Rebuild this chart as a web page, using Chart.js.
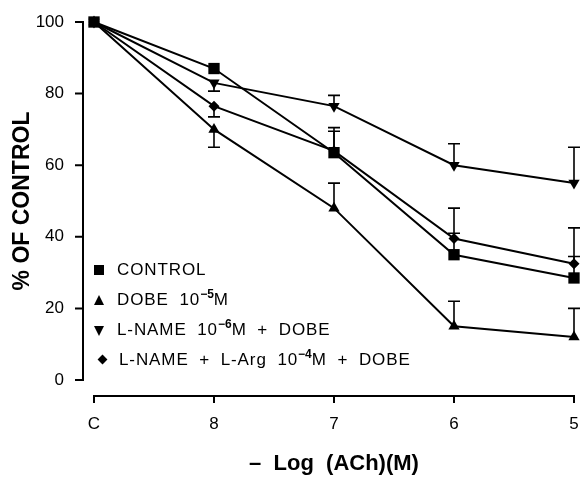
<!DOCTYPE html>
<html>
<head>
<meta charset="utf-8">
<script src="https://cdn.jsdelivr.net/npm/chart.js@4/dist/chart.umd.min.js"></script>
<style>
  html, body { margin: 0; padding: 0; background: #fff; }
  #wrap { position: relative; width: 582px; height: 477px; }
  #legend { position: absolute; left: 0; top: 0; font-family: "Liberation Sans", Arial, sans-serif;
            font-size: 17px; letter-spacing: 0.9px; word-spacing: 5px; color: #000; }
  .row { position: absolute; white-space: nowrap; line-height: 20px; }
  .row sup { font-size: 12px; vertical-align: 7px; line-height: 0; letter-spacing: 0; font-weight: bold; }
  .mk { position: absolute; }
  .sq { width: 10px; height: 10px; background: #000; }
  .up { width: 0; height: 0; border-left: 5.5px solid transparent; border-right: 5.5px solid transparent; border-bottom: 10px solid #000; }
  .dn { width: 0; height: 0; border-left: 5.5px solid transparent; border-right: 5.5px solid transparent; border-top: 10px solid #000; }
  .di { width: 7px; height: 7px; background: #000; transform: rotate(45deg); }
</style>
</head>
<body>
<div id="wrap">
  <canvas id="c" width="582" height="477"></canvas>
  <div id="legend">
    <div class="mk sq" style="left:94px;top:265px"></div>
    <div class="row" style="left:117px;top:260px">CONTROL</div>
    <div class="mk up" style="left:94px;top:295px"></div>
    <div class="row" style="left:117px;top:290px">DOBE 10<sup>−5</sup>M</div>
    <div class="mk dn" style="left:94px;top:326px"></div>
    <div class="row" style="left:117px;top:320px">L-NAME 10<sup>−6</sup>M + DOBE</div>
    <div class="mk di" style="left:99px;top:356px"></div>
    <div class="row" style="left:119px;top:350px">L-NAME + L-Arg 10<sup>−4</sup>M + DOBE</div>
  </div>
</div>
<script>
// x categories (C = control, then -log[ACh])
const doses = ['C', '8', '7', '6', '5'];

// % of control
const control = [100, 87, 63.5, 35, 28.5];
const dobe = [100, 70, 48, 15, 12];
const lname = [100, 83, 76.5, 60, 55];
const lnameArg = [100, 76.5, 64, 39.5, 32.5];

// one-sided SEM bars: + drawn upward, - drawn downward
const controlErr = [0, 0, 7, 6, 6];
const dobeErr = [0, -5, 7, 7, 8];
const lnameErr = [0, -2.3, 3, 6, 10];
const lnameArgErr = [0, -3, 5.5, 8.5, 10];

const yTicks = [0, 20, 40, 60, 80, 100];

function series(data, err, style, radius, rot) {
  return {
    data: data,
    err: err,
    borderColor: '#000',
    backgroundColor: '#000',
    borderWidth: 2,
    pointStyle: style,
    pointRadius: radius,
    pointRotation: rot || 0,
    pointBorderWidth: 0,
    tension: 0,
    clip: false
  };
}

// separated axis lines like the original plot
const axesPlugin = {
  id: 'axes',
  afterDraw(chart) {
    const ctx = chart.ctx;
    const x = chart.scales.x, y = chart.scales.y;
    const ax = chart.chartArea.left - 11;
    const ay = chart.chartArea.bottom + 16;
    ctx.save();
    ctx.strokeStyle = '#000';
    ctx.lineWidth = 2;
    ctx.beginPath();
    ctx.moveTo(ax, y.getPixelForValue(0));
    ctx.lineTo(ax, y.getPixelForValue(100));
    yTicks.forEach(v => {
      const py = y.getPixelForValue(v);
      ctx.moveTo(ax + 1, py);
      ctx.lineTo(ax - 8, py);
    });
    ctx.moveTo(x.getPixelForValue(0), ay);
    ctx.lineTo(x.getPixelForValue(doses.length - 1), ay);
    doses.forEach((d, i) => {
      const px = x.getPixelForValue(i);
      ctx.moveTo(px, ay - 1);
      ctx.lineTo(px, ay + 7);
    });
    ctx.stroke();
    ctx.restore();
  }
};

const errorBars = {
  id: 'errorBars',
  afterDatasetsDraw(chart) {
    const ctx = chart.ctx;
    const x = chart.scales.x, y = chart.scales.y;
    ctx.save();
    ctx.strokeStyle = '#000';
    ctx.lineWidth = 1.6;
    chart.data.datasets.forEach(ds => {
      ds.data.forEach((v, i) => {
        const e = ds.err[i];
        if (!e) return;
        const px = x.getPixelForValue(i);
        const y0 = y.getPixelForValue(v);
        const y1 = y.getPixelForValue(v + e);
        ctx.beginPath();
        ctx.moveTo(px, y0);
        ctx.lineTo(px, y1);
        ctx.moveTo(px - 6, y1);
        ctx.lineTo(px + 6, y1);
        ctx.stroke();
      });
    });
    ctx.restore();
  }
};

new Chart(document.getElementById('c'), {
  type: 'line',
  data: {
    labels: doses,
    datasets: [
      series(control, controlErr, 'rect', 8),
      series(dobe, dobeErr, 'triangle', 6.5),
      series(lname, lnameErr, 'triangle', 6.5, 180),
      series(lnameArg, lnameArgErr, 'rectRot', 5.5)
    ]
  },
  options: {
    responsive: false,
    animation: false,
    events: [],
    layout: { autoPadding: false, padding: { top: 22, right: 8, left: 0, bottom: 0 } },
    plugins: { legend: { display: false }, tooltip: { enabled: false } },
    scales: {
      x: {
        type: 'category',
        offset: false,
        grid: { display: false, drawTicks: false },
        border: { display: false },
        ticks: { color: '#000', padding: 34, maxRotation: 0, autoSkip: false,
                 font: { family: 'Liberation Sans', size: 17 } },
        title: { display: true, text: '–  Log  (ACh)(M)', color: '#000', padding: 0,
                 font: { family: 'Liberation Sans', size: 22, weight: 'bold' } },
        afterFit(s) { s.height = 97; s.paddingLeft = 0; s.paddingRight = 0; }
      },
      y: {
        min: 0,
        max: 100,
        grid: { display: false, drawTicks: false },
        border: { display: false },
        ticks: { color: '#000', stepSize: 20, padding: 30,
                 font: { family: 'Liberation Sans', size: 17 } },
        title: { display: true, text: '% OF CONTROL', color: '#000', padding: { top: 9 },
                 font: { family: 'Liberation Sans', size: 23, weight: 'bold' } },
        afterFit(s) { s.width = 94; s.paddingTop = 0; s.paddingBottom = 0; }
      }
    }
  },
  plugins: [axesPlugin, errorBars]
});
</script>
</body>
</html>
